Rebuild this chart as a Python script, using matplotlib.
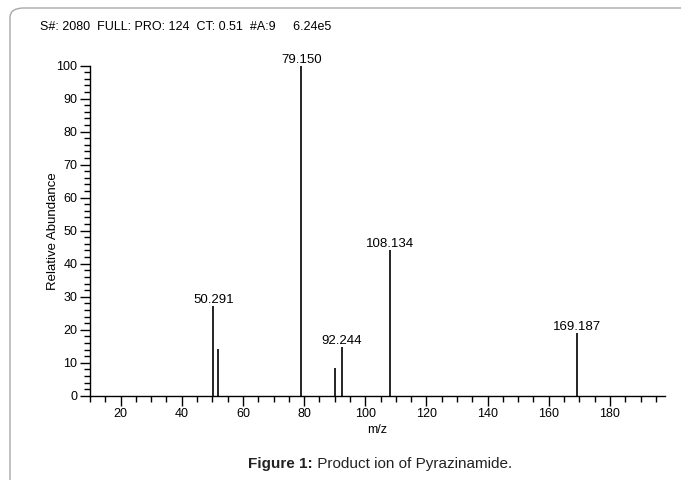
import matplotlib.pyplot as plt
from matplotlib.patches import FancyBboxPatch
from matplotlib.ticker import MultipleLocator

plt.rcParams['font.family'] = ['Liberation Sans', 'DejaVu Sans']

# product ion spectrum (m/z, relative abundance)
mz = [50.291, 52.0, 79.150, 90.0, 92.244, 108.134, 169.187]
abundance = [27.3, 14.2, 100.0, 8.5, 14.7, 44.2, 19.0]
labelled = [True, False, True, False, True, True, True]

header = 'S#: 2080  FULL: PRO: 124  CT: 0.51  #A:9     6.24e5'
caption_bold = 'Figure 1:'
caption_rest = ' Product ion of Pyrazinamide.'

W, H = 681, 480
fig = plt.figure(figsize=(W / 100, H / 100), dpi=100)

# rounded light-grey frame, open to the right and bottom
frame = FancyBboxPatch((10 / W, -0.2), 1.2, 0.2 + 1 - 8 / H,
                       boxstyle='round,pad=0,rounding_size=0.02',
                       transform=fig.transFigure, fill=False,
                       edgecolor='#a8a8a8', linewidth=1.0)
fig.patches.append(frame)

ax = fig.add_axes([90 / W, 1 - 395.7 / H, (665 - 90) / W, (395.7 - 65.7) / H])
ax.vlines(mz, 0, abundance, colors='black', linewidth=1.2)
for x, y, lab in zip(mz, abundance, labelled):
    if lab:
        ax.annotate(f'{x:.3f}', (x, y), xytext=(0, 0), textcoords='offset points',
                    ha='center', va='bottom', fontsize=9.5)

ax.set_xlim(10, 198)
ax.set_ylim(0, 100)
ax.xaxis.set_major_locator(MultipleLocator(20))
ax.xaxis.set_minor_locator(MultipleLocator(5))
ax.yaxis.set_major_locator(MultipleLocator(10))
ax.yaxis.set_minor_locator(MultipleLocator(2))
ax.tick_params(which='major', length=7, width=1, labelsize=9, pad=2)
ax.tick_params(which='minor', length=4, width=1)
for s in ('top', 'right'):
    ax.spines[s].set_visible(False)
for s in ('left', 'bottom'):
    ax.spines[s].set_linewidth(1)
ax.set_xlabel('m/z', fontsize=9, labelpad=3)
ax.set_ylabel('Relative Abundance', fontsize=9.5, labelpad=-2)

fig.text(40 / W, 1 - 27 / H, header, fontsize=9, va='center', ha='left')

cap_y = 1 - 464 / H
t = fig.text(248 / W, cap_y, caption_bold, fontsize=11, fontweight='bold',
             va='center', ha='left', color='#222222')
fig.canvas.draw()
bb = t.get_window_extent()
fig.text(bb.x1 / W, cap_y, caption_rest, fontsize=11, va='center', ha='left',
         color='#222222')

fig.savefig('out.png', dpi=100)
